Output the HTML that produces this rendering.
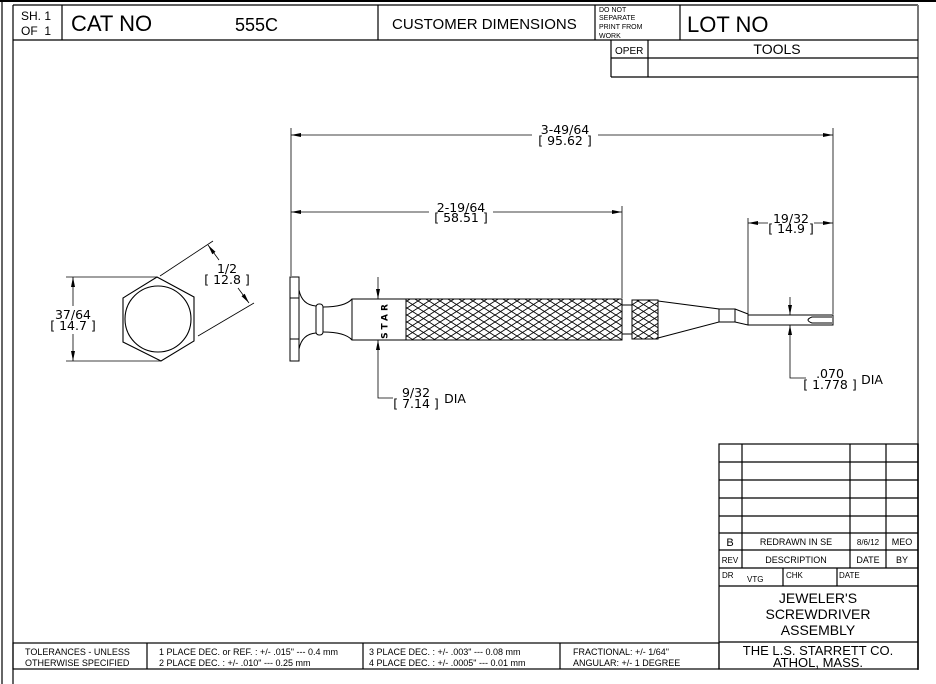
<!DOCTYPE html>
<html><head><meta charset="utf-8"><style>
html,body{margin:0;padding:0;background:#fff;}
svg{display:block;}
.t{font-family:"Liberation Sans",Arial,sans-serif;fill:#000;}
.d{font-family:"DejaVu Sans",sans-serif;font-size:12.5px;fill:#000;text-anchor:middle;}
</style></head><body>
<svg width="936" height="684" viewBox="0 0 936 684" xmlns="http://www.w3.org/2000/svg">
<defs>
<pattern id="k" width="11" height="7" patternUnits="userSpaceOnUse">
<path d="M0 0L11 7M0 7L11 0" stroke="#000" stroke-width="0.9" fill="none"/>
</pattern>
<marker id="a" viewBox="0 0 10 6" refX="10" refY="3" markerWidth="10" markerHeight="6" orient="auto" markerUnits="userSpaceOnUse">
<path d="M0 1L10 3L0 5Z" fill="#000"/>
</marker>
</defs>
<rect width="936" height="684" fill="#fff"/>
<line x1="0" y1="1" x2="936" y2="1" stroke="#000" stroke-width="2"/>
<line x1="2" y1="0" x2="2" y2="684" stroke="#000" stroke-width="1.2"/>
<g stroke="#000" fill="none" stroke-width="1.2">
<line x1="13" y1="5" x2="918" y2="5"/>
<line x1="13" y1="5" x2="13" y2="684"/>
<line x1="918" y1="5" x2="918" y2="670" stroke="#777" stroke-width="2"/>
<line x1="13" y1="40" x2="918" y2="40"/>
<line x1="62" y1="5" x2="62" y2="40"/>
<line x1="378" y1="5" x2="378" y2="40"/>
<line x1="595" y1="5" x2="595" y2="40"/>
<line x1="680" y1="5" x2="680" y2="40"/>
<line x1="611" y1="40" x2="611" y2="77"/>
<line x1="648" y1="40" x2="648" y2="77"/>
<line x1="611" y1="58" x2="918" y2="58"/>
<line x1="611" y1="77" x2="918" y2="77"/>
<rect x="13" y="643" width="706" height="26"/>
<line x1="147" y1="643" x2="147" y2="669"/>
<line x1="363" y1="643" x2="363" y2="669"/>
<line x1="560" y1="643" x2="560" y2="669"/>
<rect x="719" y="444" width="199" height="225"/>
<line x1="719" y1="462" x2="918" y2="462"/>
<line x1="719" y1="480" x2="918" y2="480"/>
<line x1="719" y1="498" x2="918" y2="498"/>
<line x1="719" y1="516" x2="918" y2="516"/>
<line x1="719" y1="533" x2="918" y2="533"/>
<line x1="719" y1="550" x2="918" y2="550"/>
<line x1="719" y1="568" x2="918" y2="568"/>
<line x1="719" y1="586" x2="918" y2="586"/>
<line x1="719" y1="642" x2="918" y2="642"/>
<line x1="742" y1="444" x2="742" y2="568"/>
<line x1="850" y1="444" x2="850" y2="568"/>
<line x1="886" y1="444" x2="886" y2="568"/>
<line x1="783" y1="568" x2="783" y2="586"/>
<line x1="837" y1="568" x2="837" y2="586"/>
</g>
<text class="t" x="21" y="20" font-size="12">SH. 1</text>
<text class="t" x="21" y="35" font-size="12">OF &#160;1</text>
<text class="t" x="71" y="31" font-size="22">CAT NO</text>
<text class="t" x="235" y="31" font-size="18">555C</text>
<text class="t" x="392" y="29" font-size="15">CUSTOMER DIMENSIONS</text>
<text class="t" x="599" y="12" font-size="7">DO NOT</text>
<text class="t" x="599" y="20" font-size="7">SEPARATE</text>
<text class="t" x="599" y="29" font-size="7">PRINT FROM</text>
<text class="t" x="599" y="38" font-size="7">WORK</text>
<text class="t" x="687" y="32" font-size="22">LOT NO</text>
<text class="t" x="615" y="54" font-size="10">OPER</text>
<text class="t" x="777" y="54" font-size="14" text-anchor="middle">TOOLS</text>

<text class="t" x="25" y="655" font-size="9">TOLERANCES - UNLESS</text>
<text class="t" x="25" y="666" font-size="9">OTHERWISE SPECIFIED</text>
<text class="t" x="159" y="655" font-size="9">1 PLACE DEC. or REF. :  +/- .015" --- 0.4 mm</text>
<text class="t" x="159" y="666" font-size="9">2 PLACE DEC. :  +/- .010" --- 0.25 mm</text>
<text class="t" x="369" y="655" font-size="9">3 PLACE DEC. :  +/- .003" --- 0.08 mm</text>
<text class="t" x="369" y="666" font-size="9">4 PLACE DEC. : +/- .0005" --- 0.01 mm</text>
<text class="t" x="573" y="655" font-size="9">FRACTIONAL: +/- 1/64"</text>
<text class="t" x="573" y="666" font-size="9">ANGULAR:  +/- 1 DEGREE</text>

<text class="t" x="730" y="546" font-size="11" text-anchor="middle">B</text>
<text class="t" x="796" y="545" font-size="9" text-anchor="middle">REDRAWN IN SE</text>
<text class="t" x="868" y="545" font-size="8" text-anchor="middle">8/6/12</text>
<text class="t" x="902" y="545" font-size="9" text-anchor="middle">MEO</text>
<text class="t" x="730" y="563" font-size="8" text-anchor="middle">REV</text>
<text class="t" x="796" y="563" font-size="9" text-anchor="middle">DESCRIPTION</text>
<text class="t" x="868" y="563" font-size="9" text-anchor="middle">DATE</text>
<text class="t" x="902" y="563" font-size="9" text-anchor="middle">BY</text>
<text class="t" x="722" y="578" font-size="8">DR</text>
<text class="t" x="747" y="582" font-size="8">VTG</text>
<text class="t" x="786" y="578" font-size="8">CHK</text>
<text class="t" x="839" y="578" font-size="8">DATE</text>
<text class="t" x="818" y="603" font-size="14" text-anchor="middle">JEWELER'S</text>
<text class="t" x="818" y="619" font-size="14" text-anchor="middle">SCREWDRIVER</text>
<text class="t" x="818" y="635" font-size="14" text-anchor="middle">ASSEMBLY</text>
<text class="t" x="818" y="655" font-size="13" text-anchor="middle">THE L.S. STARRETT CO.</text>
<text class="t" x="818" y="667" font-size="13" text-anchor="middle">ATHOL, MASS.</text>

<g stroke="#000" stroke-width="1" fill="none">
<rect x="290" y="277" width="9" height="84"/>
<line x1="290" y1="298" x2="299" y2="298"/>
<line x1="290" y1="339" x2="299" y2="339"/>
<path d="M299 290 Q302 305 316 306 L316 333 Q302 334 299 349"/>
<rect x="316" y="304" width="7" height="31" rx="3"/>
<path d="M323 307 Q345 307 352 299 M323 332 Q345 332 352 340"/>
<rect x="352" y="299" width="54" height="41"/>
<rect x="406" y="299" width="216" height="41" fill="url(#k)"/>
<rect x="622" y="305" width="10" height="29"/>
<rect x="632" y="300" width="26" height="39" fill="url(#k)"/>
<path d="M658 301 L719 309 L719 322 L658 338"/>
<path d="M719 309 L735 309 L735 322 L719 322"/>
<path d="M735 309 L748 314 L748 325 L735 322"/>
<rect x="748" y="315" width="85" height="10"/>
<path d="M832 317 L812 317 Q804 320 812 323 L832 323"/>
</g>
<text x="385" y="320" font-family="DejaVu Sans,sans-serif" font-size="9" font-weight="bold" text-anchor="middle" letter-spacing="3" transform="rotate(-90 385 320)" dominant-baseline="middle">STAR</text>

<g stroke="#000" stroke-width="1.1" fill="none">
<polygon points="157,277 194,297 194,341 161,361 123,342 123,298"/>
<circle cx="158" cy="319" r="33"/>
</g>

<g stroke="#000" stroke-width="0.8" fill="none">
<line x1="291" y1="128" x2="291" y2="276"/>
<line x1="833" y1="128" x2="833" y2="314"/>
<line x1="532" y1="135" x2="291" y2="135" marker-end="url(#a)"/>
<line x1="598" y1="135" x2="833" y2="135" marker-end="url(#a)"/>
<line x1="622" y1="206" x2="622" y2="298"/>
<line x1="429" y1="212" x2="291" y2="212" marker-end="url(#a)"/>
<line x1="493" y1="212" x2="622" y2="212" marker-end="url(#a)"/>
<line x1="748" y1="218" x2="748" y2="314"/>
<line x1="768" y1="223" x2="748" y2="223" marker-end="url(#a)"/>
<line x1="814" y1="223" x2="833" y2="223" marker-end="url(#a)"/>
<line x1="160" y1="276" x2="213" y2="241"/>
<line x1="198" y1="336" x2="254" y2="303"/>
<line x1="219" y1="260" x2="208" y2="245" marker-end="url(#a)"/>
<line x1="238" y1="288" x2="249" y2="303" marker-end="url(#a)"/>
<line x1="66" y1="277" x2="157" y2="277"/>
<line x1="66" y1="361" x2="161" y2="361"/>
<line x1="73" y1="306" x2="73" y2="277" marker-end="url(#a)"/>
<line x1="73" y1="334" x2="73" y2="361" marker-end="url(#a)"/>
<line x1="378" y1="277" x2="378" y2="299" marker-end="url(#a)"/>
<polyline points="393,398 378,398 378,340" marker-end="url(#a)"/>
<line x1="790" y1="297" x2="790" y2="315" marker-end="url(#a)"/>
<polyline points="806,378 790,378 790,325" marker-end="url(#a)"/>
</g>
<text class="d" x="565" y="134">3-49/64</text>
<text class="d" x="565" y="145">[ 95.62 ]</text>
<text class="d" x="461" y="212">2-19/64</text>
<text class="d" x="461" y="222">[ 58.51 ]</text>
<text class="d" x="791" y="223">19/32</text>
<text class="d" x="791" y="233">[ 14.9 ]</text>
<text class="d" x="227" y="273">1/2</text>
<text class="d" x="227" y="284">[ 12.8 ]</text>
<text class="d" x="73" y="319">37/64</text>
<text class="d" x="73" y="330">[ 14.7 ]</text>
<text class="d" x="416" y="397">9/32</text>
<text class="d" x="416" y="408">[ 7.14 ]</text>
<text class="d" x="455" y="403">DIA</text>
<text class="d" x="830" y="378">.070</text>
<text class="d" x="830" y="389">[ 1.778 ]</text>
<text class="d" x="872" y="384">DIA</text>
</svg>
</body></html>
